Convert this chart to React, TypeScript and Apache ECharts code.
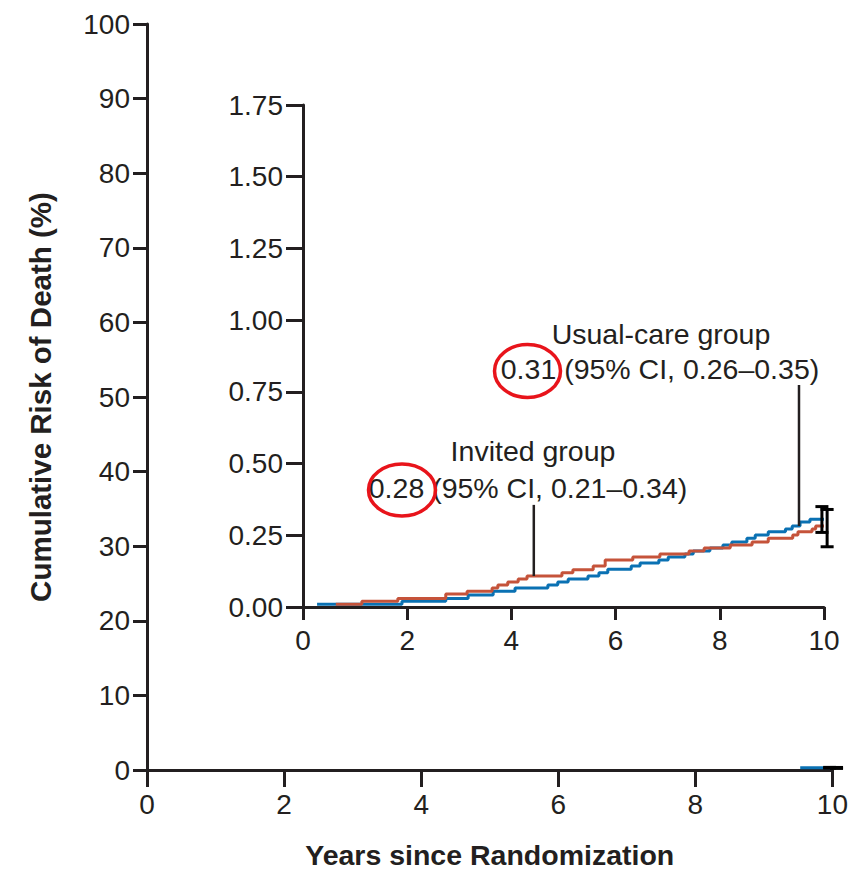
import React, { useEffect, useRef } from "react";
import * as echarts from "echarts";

// Inner (zoomed) chart: cumulative risk of death (%) by years since randomization
const invitedSteps: [number, number][] = [
  [0.63, 0.01], [1.13, 0.02], [1.82, 0.03], [2.74, 0.045], [3.15, 0.055],
  [3.63, 0.066], [3.74, 0.077], [3.93, 0.087], [4.13, 0.098], [4.3, 0.108],
  [4.97, 0.119], [5.18, 0.13], [5.57, 0.143], [5.8, 0.164], [6.33, 0.174],
  [6.85, 0.185], [7.41, 0.195], [7.7, 0.206], [8.2, 0.216], [8.62, 0.227],
  [8.93, 0.24], [9.4, 0.251], [9.5, 0.262], [9.77, 0.272], [9.84, 0.282],
  [10.0, 0.282],
];
const usualSteps: [number, number][] = [
  [0.27, 0.01], [1.9, 0.02], [2.74, 0.03], [3.17, 0.042], [3.65, 0.055],
  [4.07, 0.066], [4.7, 0.077], [4.89, 0.087], [5.09, 0.098], [5.47, 0.108],
  [5.68, 0.119], [5.85, 0.132], [6.3, 0.143], [6.47, 0.153], [6.83, 0.164],
  [7.01, 0.174], [7.33, 0.185], [7.49, 0.195], [7.81, 0.206], [8.06, 0.216],
  [8.23, 0.227], [8.52, 0.24], [8.68, 0.251], [8.93, 0.262], [9.26, 0.272],
  [9.39, 0.282], [9.54, 0.296], [9.73, 0.306], [10.0, 0.306],
];
// [x, low, high] — 95% CI at 10 years (usual care, invited)
const ciBars: [number, number, number][] = [
  [9.96, 0.26, 0.35],
  [10.06, 0.21, 0.34],
];
const invitedLeader: [number, number][] = [[4.43, 0.108], [4.43, 0.356]];
const usualLeader: [number, number][] = [[9.52, 0.282], [9.52, 0.774]];

// Outer (full-scale) chart: only the visible end of the usual-care curve
const outerUsual: [number, number][] = [[9.53, 0.31], [10.0, 0.31]];

const usualLabel = "Usual-care group";
const usualValue = "0.31 (95% CI, 0.26\u20130.35)";
const invitedLabel = "Invited group";
const invitedValue = "0.28 (95% CI, 0.21\u20130.34)";
const xTitle = "Years since Randomization";
const yTitle = "Cumulative Risk of Death (%)";

const FONT = "'Liberation Sans', Arial, sans-serif";
const INK = "#231f20";
const BLUE = "#0a71b3";
const RED = "#c5533a";

export default function App() {
  const ref = useRef<HTMLDivElement>(null);
  useEffect(() => {
    if (!ref.current) return;
    const chart = echarts.init(ref.current, undefined, { renderer: "svg" });
    const axisLine = { lineStyle: { color: INK, width: 3 } };
    const label = (margin: number) => ({
      color: INK,
      fontSize: 28,
      fontFamily: FONT,
      margin,
    });
    const textEl = (text: string, x: number, y: number) => ({
      type: "text",
      style: {
        text,
        x,
        y,
        fill: INK,
        fontSize: 28.5,
        fontFamily: FONT,
        align: "center",
        verticalAlign: "middle",
      },
      z: 10,
    });
    const renderCI = (params: any, api: any) => {
      const x = api.value(0);
      const lo = api.coord([x, api.value(1)]);
      const hi = api.coord([x, api.value(2)]);
      const hw = 6.5;
      const st = { stroke: "#000", lineWidth: 3 };
      return {
        type: "group",
        children: [
          { type: "line", shape: { x1: lo[0], y1: lo[1], x2: hi[0], y2: hi[1] }, style: st },
          { type: "line", shape: { x1: lo[0] - hw, y1: lo[1], x2: lo[0] + hw, y2: lo[1] }, style: st },
          { type: "line", shape: { x1: hi[0] - hw, y1: hi[1], x2: hi[0] + hw, y2: hi[1] }, style: st },
        ],
      };
    };
    chart.setOption({
      animation: false,
      backgroundColor: "#fff",
      grid: [
        { left: 147, top: 24, width: 686, height: 746 },
        { left: 303, top: 105, width: 521, height: 502 },
      ],
      xAxis: [
        {
          gridIndex: 0,
          type: "value",
          min: 0,
          max: 10,
          interval: 2,
          axisLine,
          axisTick: { show: true, length: 17, lineStyle: { color: INK, width: 3 } },
          axisLabel: label(20),
          splitLine: { show: false },
          name: xTitle,
          nameLocation: "middle",
          nameGap: 70,
          nameTextStyle: { color: INK, fontSize: 28.5, fontWeight: "bold", fontFamily: FONT },
        },
        {
          gridIndex: 1,
          type: "value",
          min: 0,
          max: 10,
          interval: 2,
          axisLine,
          axisTick: { show: true, length: 13, lineStyle: { color: INK, width: 3 } },
          axisLabel: label(19),
          splitLine: { show: false },
        },
      ],
      yAxis: [
        {
          gridIndex: 0,
          type: "value",
          min: 0,
          max: 100,
          interval: 10,
          axisLine: { show: true, ...axisLine },
          axisTick: { show: true, length: 14, lineStyle: { color: INK, width: 3 } },
          axisLabel: label(17),
          splitLine: { show: false },
          name: yTitle,
          nameLocation: "middle",
          nameGap: 92,
          nameTextStyle: { color: INK, fontSize: 29.5, fontWeight: "bold", fontFamily: FONT },
        },
        {
          gridIndex: 1,
          type: "value",
          min: 0,
          max: 1.75,
          interval: 0.25,
          axisLine: { show: true, ...axisLine },
          axisTick: { show: true, length: 17, lineStyle: { color: INK, width: 3 } },
          axisLabel: { ...label(20), formatter: (v: number) => v.toFixed(2) },
          splitLine: { show: false },
        },
      ],
      series: [
        {
          type: "line",
          xAxisIndex: 1,
          yAxisIndex: 1,
          data: usualSteps,
          step: "end",
          showSymbol: false,
          lineStyle: { color: BLUE, width: 3 },
          z: 3,
        },
        {
          type: "line",
          xAxisIndex: 1,
          yAxisIndex: 1,
          data: invitedSteps,
          step: "end",
          showSymbol: false,
          lineStyle: { color: RED, width: 3 },
          z: 4,
        },
        {
          type: "line",
          xAxisIndex: 1,
          yAxisIndex: 1,
          data: invitedLeader,
          showSymbol: false,
          lineStyle: { color: INK, width: 2.5 },
          z: 5,
        },
        {
          type: "line",
          xAxisIndex: 1,
          yAxisIndex: 1,
          data: usualLeader,
          showSymbol: false,
          lineStyle: { color: INK, width: 2.5 },
          z: 5,
        },
        {
          type: "custom",
          xAxisIndex: 1,
          yAxisIndex: 1,
          data: ciBars,
          clip: false,
          z: 6,
          renderItem: renderCI,
        },
        {
          type: "line",
          xAxisIndex: 0,
          yAxisIndex: 0,
          data: outerUsual,
          showSymbol: false,
          clip: false,
          lineStyle: { color: BLUE, width: 3 },
        },
        {
          type: "custom",
          xAxisIndex: 0,
          yAxisIndex: 0,
          data: ciBars,
          clip: false,
          z: 6,
          renderItem: renderCI,
        },
      ],
      graphic: [
        textEl(usualLabel, 661, 334),
        textEl(usualValue, 660, 369),
        textEl(invitedLabel, 533, 451),
        textEl(invitedValue, 528, 488),
        {
          type: "ellipse",
          shape: { cx: 527.5, cy: 371, rx: 33, ry: 26.5 },
          style: { fill: "none", stroke: "#e8141b", lineWidth: 3.5 },
          z: 11,
        },
        {
          type: "ellipse",
          shape: { cx: 402, cy: 490, rx: 33.5, ry: 26 },
          style: { fill: "none", stroke: "#e8141b", lineWidth: 3.5 },
          z: 11,
        },
      ],
    });
    return () => chart.dispose();
  }, []);
  return (
    <div
      ref={ref}
      style={{ position: "fixed", left: 0, top: 0, width: 851, height: 876 }}
    />
  );
}
